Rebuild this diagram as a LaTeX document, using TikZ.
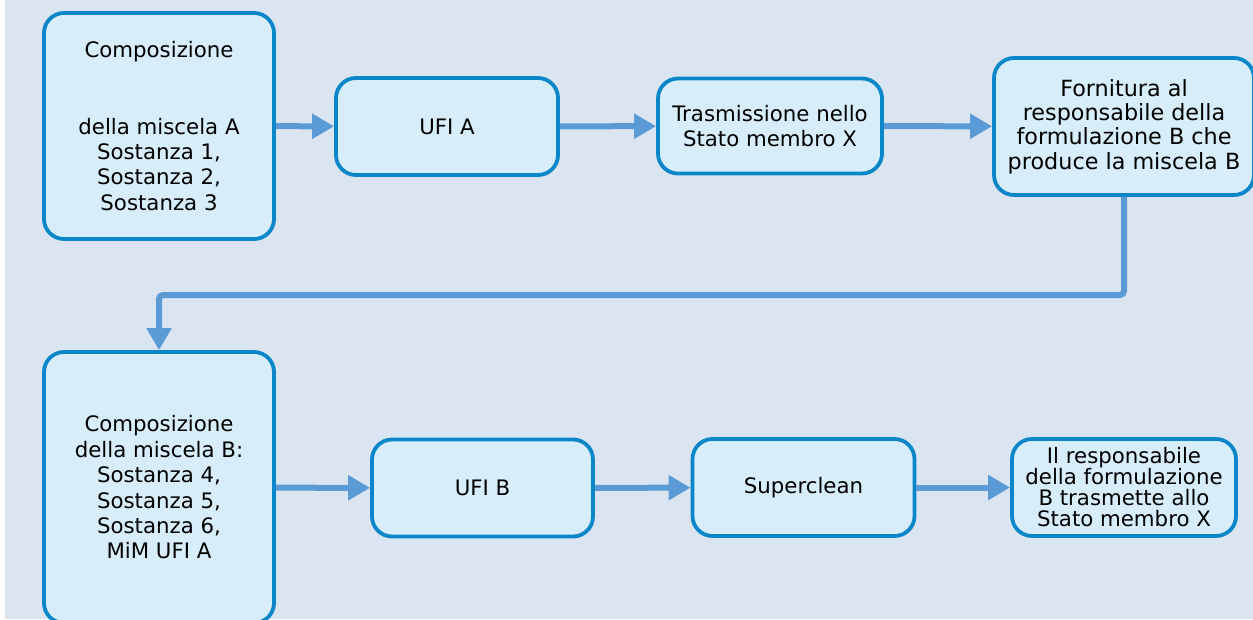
\documentclass[tikz,border=0pt]{standalone}
\usepackage{fontspec}
\setmainfont{DejaVu Sans}
\usetikzlibrary{arrows.meta}

\definecolor{bgblue}{HTML}{DBE5F1}
\definecolor{boxfill}{HTML}{D7EEFA}
\definecolor{boxline}{HTML}{0B87C9}
\definecolor{arrowblue}{HTML}{5B9BD5}

\begin{document}
\begin{tikzpicture}[x=1pt,y=-1pt]

        \useasboundingbox (0,0) rectangle (1253,619);
        \fill[bgblue] (5,0) rectangle (1253,619);

        \begin{scope}[every node/.style={draw=boxline, fill=boxfill, line width=3.8pt,
            rounded corners=20pt, align=center, inner sep=0pt,
            font=\fontsize{21.3}{25.4}\selectfont}]
          \node[minimum width=230pt, minimum height=226pt] (a1) at (159,126)
            {Composizione\\[51pt]della miscela A\\Sostanza 1,\\Sostanza 2,\\Sostanza 3};
          \node[minimum width=222pt, minimum height=97pt]  (a2) at (447,126.5) {UFI A};
          \node[minimum width=224pt, minimum height=95pt]  (a3) at (770,126) {Trasmissione nello\\Stato membro X};
          \node[minimum width=260pt, minimum height=137pt, font=\fontsize{22.3}{24.4}\selectfont] (a4) at (1124,126.5)
            {Fornitura al\\responsabile della\\formulazione B che\\produce la miscela B};
          \node[minimum width=230pt, minimum height=271pt] (b1) at (159,487.5)
            {Composizione\\della miscela B:\\Sostanza 4,\\Sostanza 5,\\Sostanza 6,\\MiM UFI A};
          \node[minimum width=221pt, minimum height=97pt]  (b2) at (482.5,488) {UFI B};
          \node[minimum width=222pt, minimum height=97pt]  (b3) at (803.5,487.5) {Superclean};
          \node[minimum width=224pt, minimum height=97pt, font=\fontsize{21.3}{21}\selectfont] (b4) at (1124,487.5)
            {Il responsabile\\della formulazione\\B trasmette allo\\Stato membro X};
        \end{scope}

        \coordinate (elbow) at (1124,295);

        \begin{scope}[every edge/.style={draw=arrowblue, line width=6pt,
            -{Triangle[length=22pt,width=24pt]}}]
          \path (a1) edge (a2);
          \path (a2) edge (a3);
          \path (a3) edge (a4);
          \path (b1) edge (b2);
          \path (b2) edge (b3);
          \path (b3) edge (b4);
        \end{scope}

        \draw[arrowblue, line width=6pt, rounded corners=4pt,
          -{Triangle[length=22pt,width=24pt]}] (a4.south) -- (elbow) -| (b1.north);

      \end{tikzpicture}
\end{document}
